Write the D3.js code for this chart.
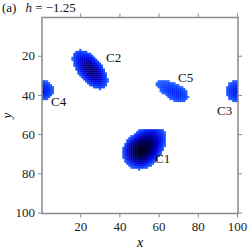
<!DOCTYPE html>
<html>
<head>
<meta charset="utf-8">
<script src="https://cdn.jsdelivr.net/npm/d3@7"></script>
<style>
  body { margin: 0; background: #fff; }
</style>
</head>
<body>
<svg id="chart" width="249" height="250"></svg>
<script>
// grid is 100 x 100 cells, indexes 1..100
const gridN = 100;
const xTicks = [20, 40, 60, 80, 100];
const yTicks = [20, 40, 60, 80, 100];

// localized structures (data units)
const blobNames = ["C1", "C2", "C3", "C4", "C5"];
const blobCx    = [51, 25, 100.5, 0.5, 69];
const blobCy    = [68.5, 27, 38, 37.5, 39];
const blobAngle = [-45, 50, 0, 0, 30];      // degrees, y pointing down
const blobFwd   = [16, 12, 6.5, 5.8, 6.5];   // half length along the angle
const blobBack  = [10, 12, 6.5, 5.8, 11.5];  // half length opposite to it
const blobWide  = [9, 6.2, 5.6, 5.0, 4.2];   // half width
const blobTop   = [57.5, 0, 0, 0, 0];        // rows above are empty
const blobPeak  = [1.0, 0.82, 0.45, 0.45, 0.38];
const labelX    = [58.2, 33.2, 89.8, 5.1, 69.9];
const labelY    = [74.5, 23.1, 50.1, 45.5, 33.3];

const serif = '"Liberation Serif", "Times New Roman", serif';

const margin = {top: 17.5, right: 11, bottom: 36.5, left: 42};
const W = 249, H = 250;
const w = W - margin.left - margin.right,
      h = H - margin.top - margin.bottom;

const svg = d3.select("#chart");
const g = svg.append("g").attr("transform", `translate(${margin.left},${margin.top})`);

const x = d3.scaleLinear().domain([0.5, gridN + 0.5]).range([0, w]);
const y = d3.scaleLinear().domain([0.5, gridN + 0.5]).range([0, h]);

const color = d3.scaleLinear()
    .domain([0, 0.3, 0.6, 1])
    .range(["#2c6cff", "#0636ff", "#0000dc", "#000026"])
    .clamp(true);

// build the cells from the blob table
let cells = [];
for (let j = 1; j <= gridN; j++) {
    for (let i = 1; i <= gridN; i++) {
        let best = -1;
        blobNames.forEach(function (n, k) {
            if (j < blobTop[k]) return;
            const a = blobAngle[k] * Math.PI / 180;
            const dx = i - blobCx[k], dy = j - blobCy[k];
            const u = dx * Math.cos(a) + dy * Math.sin(a);
            const v = -dx * Math.sin(a) + dy * Math.cos(a);
            const ra = u > 0 ? blobFwd[k] : blobBack[k];
            const d2 = (u / ra) * (u / ra) + (v / blobWide[k]) * (v / blobWide[k]);
            if (d2 < 1) {
                const val = blobPeak[k] * Math.pow(1 - d2, 0.8);
                if (val > best) best = val;
            }
        });
        if (best >= 0) cells.push({i: i, j: j, v: best});
    }
}

g.append("clipPath").attr("id", "clip")
    .append("rect").attr("width", w).attr("height", h);

g.append("g")
    .attr("clip-path", "url(#clip)")
    .selectAll("rect")
    .data(cells)
    .enter().append("rect")
    .attr("x", d => x(d.i - 0.5))
    .attr("y", d => y(d.j - 0.5))
    .attr("width", x(1.5) - x(0.5) + 0.3)
    .attr("height", y(1.5) - y(0.5) + 0.3)
    .attr("fill", d => color(d.v));

// axes
const axisColor = "#8a8a8a";
function styleAxis(sel) {
    sel.attr("font-family", null).attr("font-size", null);
    sel.select(".domain").remove();
    sel.selectAll(".tick line").attr("stroke", axisColor).attr("stroke-width", 1);
    sel.selectAll(".tick text")
        .attr("fill", "#222")
        .style("font-family", serif)
        .style("font-size", "13px");
}

g.append("g")
    .attr("transform", `translate(0,${h})`)
    .call(d3.axisBottom(x).tickValues(xTicks).tickSize(4).tickPadding(4))
    .call(styleAxis);
g.append("g")
    .call(d3.axisTop(x).tickValues(xTicks).tickSize(4).tickFormat(""))
    .call(styleAxis);
g.append("g")
    .call(d3.axisLeft(y).tickValues(yTicks).tickSize(4).tickPadding(3))
    .call(styleAxis);
g.append("g")
    .attr("transform", `translate(${w},0)`)
    .call(d3.axisRight(y).tickValues(yTicks).tickSize(4).tickFormat(""))
    .call(styleAxis);

g.append("rect")
    .attr("width", w).attr("height", h)
    .attr("fill", "none")
    .attr("stroke", axisColor)
    .attr("stroke-width", 1.5);

// structure labels
g.selectAll(".blab")
    .data(blobNames)
    .enter().append("text")
    .attr("class", "blab")
    .attr("x", (d, k) => x(labelX[k]))
    .attr("y", (d, k) => y(labelY[k]))
    .style("font-family", serif)
    .style("font-size", "13px")
    .attr("fill", "#111")
    .text(d => d);

// axis titles
svg.append("text")
    .attr("x", margin.left + w / 2)
    .attr("y", 247)
    .attr("text-anchor", "middle")
    .style("font-family", serif)
    .style("font-size", "14px")
    .style("font-style", "italic")
    .text("x");
svg.append("text")
    .attr("transform", `translate(11,${margin.top + h / 2}) rotate(-90)`)
    .attr("text-anchor", "middle")
    .style("font-family", serif)
    .style("font-size", "13px")
    .style("font-style", "italic")
    .text("y");

// panel title
const title = svg.append("text")
    .attr("x", 2)
    .attr("y", 12)
    .style("font-family", serif)
    .style("font-size", "13px")
    .attr("fill", "#111");
title.append("tspan").text("(a)");
title.append("tspan").attr("dx", 9).style("font-style", "italic").text("h");
title.append("tspan").text(" = \u22121.25");
</script>
</body>
</html>
